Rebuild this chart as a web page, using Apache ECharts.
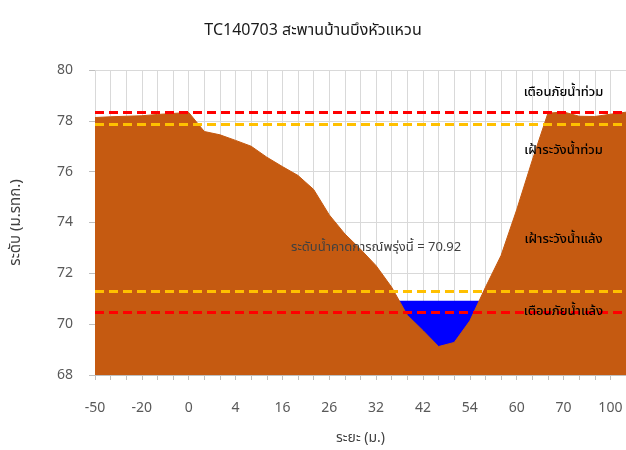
<!DOCTYPE html>
<html>
<head>
<meta charset="utf-8">
<script src="https://cdn.jsdelivr.net/npm/echarts@6/dist/echarts.min.js"></script>
<style>
  html, body { margin: 0; padding: 0; background: #fff; }
  #chart { width: 626px; height: 450px; }
</style>
</head>
<body>
<div id="chart"></div>
<script>
// ระยะ (ม.) - แกน x
const distances = ['-50', '-40', '-30', '-20', '-10', '-5', '0', '1', '2', '4', '8', '12', '16', '20', '24',
  '26', '28', '30', '32', '36', '38', '42', '46', '50', '54', '56', '58', '60', '63', '66', '70', '80', '90', '100', '110']
// ระดับท้องน้ำ/ตลิ่ง (ม.รทก.)
const groundLevel = [78.13, 78.16, 78.18, 78.2, 78.25, 78.29, 78.33, 77.58, 77.45, 77.23, 77.0, 76.57, 76.2, 75.85, 75.3,
  74.3, 73.55, 72.95, 72.3, 71.45, 70.35, 69.75, 69.12, 69.28, 70.13, 71.45, 72.7, 74.5, 76.45, 78.3, 78.35, 78.18, 78.17, 78.26, 78.34]
// ระดับน้ำคาดการณ์พรุ่งนี้
const waterForecast = 70.92
const waterLevel = [null, null, null, null, null, null, null, null, null, null, null, null, null, null, null,
  null, null, null, null, 70.92, 70.92, 70.92, 70.92, 70.92, 70.92, 70.92, null, null, null, null, null, null, null, null, null]
// เกณฑ์เตือนภัย
const levelNames = ['เตือนภัยน้ำท่วม', 'เฝ้าระวังน้ำท่วม', 'เฝ้าระวังน้ำแล้ง', 'เตือนภัยน้ำแล้ง']
const levelValues = [78.35, 77.86, 71.28, 70.47]
const levelColors = ['#ff0000', '#ffc000', '#ffc000', '#ff0000']
// ตำแหน่งป้ายข้อความ (index ระยะ, ระดับ)
const levelLabelAt = [[29.9, 79.14], [30, 76.86], [30, 73.33], [30.1, 70.5]]

const font = "'Noto Sans', 'Noto Sans Thai', Tahoma, sans-serif"

let myChart = echarts.init(document.getElementById('chart'))
myChart.setOption({
  animation: false,
  textStyle: { fontFamily: font },
  title: {
    text: 'TC140703 สะพานบ้านบึงหัวแหวน',
    left: 'center',
    top: 17,
    textStyle: { fontSize: 16, fontWeight: 'normal', color: '#1a1a1a', fontFamily: font },
  },
  grid: { left: 95, right: 0, top: 70, bottom: 69 },
  xAxis: {
    type: 'category',
    data: distances,
    boundaryGap: false,
    name: 'ระยะ (ม.)',
    nameLocation: 'middle',
    nameGap: 56,
    nameTextStyle: { fontSize: 14, color: '#404040', fontFamily: font },
    axisLine: { show: true, lineStyle: { color: '#bfbfbf' } },
    axisTick: { show: true, interval: 0, length: 5, lineStyle: { color: '#bfbfbf' } },
    axisLabel: { interval: 2, margin: 26, fontSize: 14, color: '#595959' },
    splitLine: { show: true, interval: 0, lineStyle: { color: '#d9d9d9' } },
  },
  yAxis: {
    type: 'value',
    min: 68,
    max: 80,
    interval: 2,
    name: 'ระดับ (ม.รทก.)',
    nameLocation: 'middle',
    nameGap: 72,
    nameTextStyle: { fontSize: 15, color: '#404040', fontFamily: font },
    axisLine: { show: false },
    axisTick: { show: true, length: 6, lineStyle: { color: '#bfbfbf' } },
    axisLabel: { margin: 22, fontSize: 14, color: '#595959' },
    splitLine: { show: true, lineStyle: { color: '#d9d9d9' } },
  },
  series: [
    {
      name: 'ระดับน้ำ',
      type: 'line',
      data: waterLevel,
      z: 1,
      symbol: 'none',
      lineStyle: { width: 0 },
      areaStyle: { color: '#0000ff', opacity: 1, origin: 'start' },
    },
    {
      name: 'ระดับตลิ่ง',
      type: 'line',
      data: groundLevel,
      z: 2,
      symbol: 'none',
      lineStyle: { width: 1, color: '#c55a11' },
      areaStyle: { color: '#c55a11', opacity: 1, origin: 'start' },
    },
    {
      name: 'เกณฑ์',
      type: 'line',
      data: [],
      z: 3,
      markLine: {
        silent: true,
        symbol: 'none',
        label: { show: false },
        data: levelValues.map((v, i) => ({
          yAxis: v,
          lineStyle: { color: levelColors[i], type: [9, 5], width: 3 },
        })),
      },
      markPoint: {
        silent: true,
        symbol: 'circle',
        symbolSize: 0,
        label: { show: true, position: 'inside', fontSize: 13, fontWeight: 500, color: '#000', fontFamily: font, formatter: '{b}' },
        data: levelNames.map((n, i) => ({ name: n, coord: levelLabelAt[i] })).concat([
          {
            name: 'ระดับน้ำคาดการณ์พรุ่งนี้ = ' + waterForecast.toFixed(2),
            coord: [17.6, 73.02],
            label: { color: '#404040', fontWeight: 'normal' },
          },
        ]),
      },
    },
  ],
})
</script>
</body>
</html>
